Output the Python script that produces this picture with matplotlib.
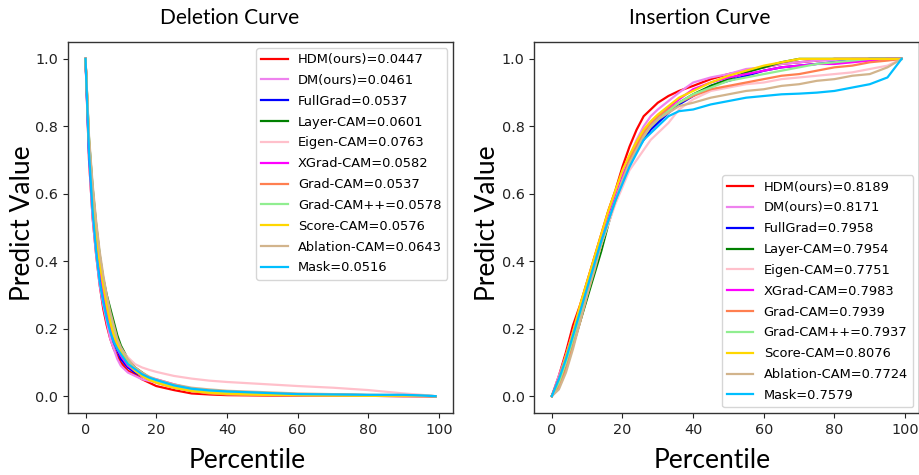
import matplotlib

matplotlib.use("Agg")
import matplotlib.pyplot as plt

FIGSIZE = (9.19, 4.75)
DPI = 100

LABELS = [
    "HDM(ours)", "DM(ours)", "FullGrad", "Layer-CAM", "Eigen-CAM", "XGrad-CAM",
    "Grad-CAM", "Grad-CAM++", "Score-CAM", "Ablation-CAM", "Mask",
]
COLORS = [
    "red", "violet", "blue", "green", "pink", "magenta",
    "coral", "lightgreen", "gold", "tan", "deepskyblue",
]
DEL_SCORES = ["0.0447", "0.0461", "0.0537", "0.0601", "0.0763", "0.0582",
              "0.0537", "0.0578", "0.0576", "0.0643", "0.0516"]
INS_SCORES = ["0.8189", "0.8171", "0.7958", "0.7954", "0.7751", "0.7983",
              "0.7939", "0.7937", "0.8076", "0.7724", "0.7579"]

# deletion curve
X_DEL = [0, 1, 2, 3, 4, 5, 6, 7, 8, 9, 10, 12, 14, 16, 18, 20, 25, 30, 35, 40, 50, 60, 70, 80, 90, 95, 99]
DEL_HDM = [1.0, 0.70, 0.53, 0.42, 0.33, 0.26, 0.21, 0.17, 0.14, 0.12, 0.10, 0.075, 0.065, 0.05, 0.04, 0.03, 0.018, 0.008, 0.005, 0.003, 0.002, 0.001, 0.001, 0.001, 0.0, 0.0, 0.0]
DEL_DM = [1.0, 0.70, 0.53, 0.42, 0.33, 0.27, 0.22, 0.17, 0.14, 0.11, 0.09, 0.07, 0.06, 0.05, 0.045, 0.04, 0.025, 0.015, 0.01, 0.006, 0.004, 0.002, 0.001, 0.001, 0.0, 0.0, 0.0]
DEL_FULLGRAD = [1.0, 0.72, 0.57, 0.45, 0.36, 0.29, 0.24, 0.20, 0.16, 0.135, 0.11, 0.085, 0.07, 0.06, 0.05, 0.045, 0.03, 0.02, 0.015, 0.01, 0.007, 0.005, 0.004, 0.003, 0.002, 0.001, 0.0]
DEL_LAYER = [1.0, 0.76, 0.62, 0.51, 0.42, 0.35, 0.30, 0.26, 0.22, 0.18, 0.15, 0.11, 0.085, 0.07, 0.055, 0.048, 0.03, 0.022, 0.016, 0.012, 0.008, 0.005, 0.004, 0.003, 0.002, 0.001, 0.0]
DEL_EIGEN = [1.0, 0.74, 0.59, 0.48, 0.39, 0.32, 0.26, 0.21, 0.18, 0.16, 0.14, 0.115, 0.095, 0.085, 0.078, 0.072, 0.06, 0.052, 0.046, 0.042, 0.036, 0.03, 0.025, 0.018, 0.008, 0.004, 0.0]
DEL_XGRAD = [1.0, 0.74, 0.59, 0.48, 0.39, 0.31, 0.26, 0.21, 0.17, 0.14, 0.12, 0.09, 0.075, 0.06, 0.055, 0.05, 0.035, 0.022, 0.015, 0.01, 0.006, 0.004, 0.003, 0.002, 0.001, 0.0, 0.0]
DEL_GRADCAM = [1.0, 0.75, 0.60, 0.49, 0.40, 0.33, 0.27, 0.22, 0.18, 0.15, 0.13, 0.10, 0.08, 0.06, 0.05, 0.04, 0.025, 0.015, 0.008, 0.005, 0.003, 0.002, 0.001, 0.001, 0.0, 0.0, 0.0]
DEL_GRADCAMPP = [1.0, 0.76, 0.61, 0.50, 0.41, 0.34, 0.28, 0.23, 0.19, 0.16, 0.135, 0.10, 0.08, 0.065, 0.052, 0.045, 0.03, 0.02, 0.014, 0.01, 0.007, 0.005, 0.004, 0.003, 0.002, 0.001, 0.0]
DEL_SCORE = [1.0, 0.75, 0.60, 0.49, 0.40, 0.33, 0.27, 0.22, 0.18, 0.155, 0.13, 0.095, 0.075, 0.06, 0.048, 0.04, 0.025, 0.015, 0.01, 0.007, 0.004, 0.003, 0.002, 0.001, 0.001, 0.0, 0.0]
DEL_ABLATION = [1.0, 0.77, 0.63, 0.52, 0.43, 0.36, 0.30, 0.25, 0.21, 0.17, 0.145, 0.11, 0.085, 0.07, 0.058, 0.05, 0.035, 0.025, 0.02, 0.016, 0.012, 0.008, 0.006, 0.004, 0.003, 0.002, 0.0]
DEL_MASK = [1.0, 0.72, 0.55, 0.43, 0.34, 0.28, 0.23, 0.19, 0.16, 0.14, 0.125, 0.095, 0.08, 0.065, 0.055, 0.048, 0.032, 0.022, 0.017, 0.014, 0.01, 0.006, 0.005, 0.004, 0.004, 0.002, 0.0]

# insertion curve
X_INS = [0, 2, 4, 6, 8, 10, 12, 14, 16, 18, 20, 22, 24, 26, 28, 30, 33, 36, 40, 45, 50, 55, 60, 65, 70, 75, 80, 85, 90, 95, 99]
INS_HDM = [0, 0.06, 0.13, 0.21, 0.27, 0.34, 0.41, 0.48, 0.55, 0.61, 0.68, 0.74, 0.79, 0.83, 0.85, 0.87, 0.89, 0.905, 0.92, 0.94, 0.955, 0.965, 0.975, 0.985, 0.99, 0.995, 1.0, 1.0, 1.0, 1.0, 1.0]
INS_DM = [0, 0.06, 0.12, 0.19, 0.26, 0.33, 0.40, 0.47, 0.54, 0.60, 0.66, 0.71, 0.76, 0.80, 0.83, 0.85, 0.875, 0.90, 0.93, 0.945, 0.955, 0.97, 0.975, 0.985, 0.99, 0.995, 0.995, 1.0, 1.0, 1.0, 1.0]
INS_FULLGRAD = [0, 0.05, 0.11, 0.17, 0.24, 0.31, 0.38, 0.45, 0.52, 0.58, 0.64, 0.69, 0.73, 0.76, 0.79, 0.81, 0.84, 0.865, 0.89, 0.92, 0.935, 0.95, 0.965, 0.975, 0.98, 0.985, 0.99, 0.995, 1.0, 1.0, 1.0]
INS_LAYER = [0, 0.03, 0.09, 0.15, 0.22, 0.29, 0.36, 0.43, 0.51, 0.58, 0.645, 0.70, 0.74, 0.77, 0.80, 0.82, 0.845, 0.87, 0.895, 0.92, 0.94, 0.96, 0.975, 0.99, 1.0, 1.0, 1.0, 1.0, 1.0, 1.0, 1.0]
INS_EIGEN = [0, 0.04, 0.10, 0.17, 0.24, 0.31, 0.38, 0.45, 0.51, 0.57, 0.62, 0.67, 0.70, 0.73, 0.76, 0.78, 0.81, 0.85, 0.88, 0.905, 0.915, 0.925, 0.93, 0.94, 0.945, 0.95, 0.955, 0.96, 0.97, 0.98, 1.0]
INS_XGRAD = [0, 0.05, 0.12, 0.19, 0.26, 0.32, 0.39, 0.46, 0.53, 0.59, 0.65, 0.70, 0.74, 0.78, 0.81, 0.83, 0.855, 0.88, 0.91, 0.93, 0.945, 0.955, 0.965, 0.975, 0.98, 0.985, 0.985, 0.99, 0.995, 1.0, 1.0]
INS_GRADCAM = [0, 0.03, 0.08, 0.15, 0.22, 0.30, 0.38, 0.45, 0.52, 0.58, 0.64, 0.70, 0.745, 0.78, 0.81, 0.83, 0.85, 0.87, 0.89, 0.91, 0.92, 0.93, 0.94, 0.95, 0.955, 0.965, 0.975, 0.98, 0.99, 0.995, 1.0]
INS_GRADCAMPP = [0, 0.04, 0.10, 0.17, 0.24, 0.31, 0.38, 0.45, 0.52, 0.58, 0.64, 0.69, 0.73, 0.77, 0.80, 0.82, 0.845, 0.87, 0.895, 0.915, 0.935, 0.945, 0.955, 0.965, 0.975, 0.985, 0.99, 0.995, 1.0, 1.0, 1.0]
INS_SCORE = [0, 0.05, 0.12, 0.19, 0.27, 0.34, 0.41, 0.48, 0.55, 0.61, 0.67, 0.715, 0.755, 0.79, 0.815, 0.835, 0.86, 0.885, 0.905, 0.93, 0.95, 0.965, 0.98, 0.99, 1.0, 1.0, 1.0, 1.0, 1.0, 1.0, 1.0]
INS_ABLATION = [0, 0.02, 0.07, 0.14, 0.22, 0.30, 0.37, 0.45, 0.52, 0.58, 0.64, 0.69, 0.73, 0.77, 0.80, 0.82, 0.84, 0.86, 0.87, 0.885, 0.895, 0.905, 0.91, 0.92, 0.925, 0.935, 0.94, 0.95, 0.955, 0.975, 1.0]
INS_MASK = [0, 0.05, 0.11, 0.18, 0.25, 0.32, 0.39, 0.46, 0.52, 0.58, 0.63, 0.68, 0.72, 0.76, 0.78, 0.80, 0.83, 0.845, 0.85, 0.865, 0.875, 0.885, 0.89, 0.895, 0.897, 0.90, 0.905, 0.915, 0.925, 0.945, 1.0]

DEL_SERIES = [DEL_HDM, DEL_DM, DEL_FULLGRAD, DEL_LAYER, DEL_EIGEN, DEL_XGRAD,
              DEL_GRADCAM, DEL_GRADCAMPP, DEL_SCORE, DEL_ABLATION, DEL_MASK]
INS_SERIES = [INS_HDM, INS_DM, INS_FULLGRAD, INS_LAYER, INS_EIGEN, INS_XGRAD,
              INS_GRADCAM, INS_GRADCAMPP, INS_SCORE, INS_ABLATION, INS_MASK]

TITLE_FONT = "Lato"


def draw_panel(ax, x, series, scores, legend_loc):
    for values, label, score, color in zip(series, LABELS, scores, COLORS):
        ax.plot(x, values, color=color, linewidth=1.6, label=f"{label}={score}")
    ax.set_yticks([0.0, 0.2, 0.4, 0.6, 0.8, 1.0])
    ax.set_xticks([0, 20, 40, 60, 80, 100])
    ax.tick_params(labelsize=10.4, colors="#222222")
    for spine in ax.spines.values():
        spine.set_color("#333333")
        spine.set_linewidth(1.0)
    ax.legend(loc=legend_loc, fontsize=9.4, labelspacing=0.6, borderaxespad=0.45)


def main():
    plt.rcParams["font.family"] = "DejaVu Sans"
    fig = plt.figure(figsize=FIGSIZE, dpi=DPI)
    ax_del = fig.add_axes([0.074, 0.1305, 0.419, 0.781])
    ax_ins = fig.add_axes([0.5814, 0.1305, 0.4187, 0.781])

    draw_panel(ax_del, X_DEL, DEL_SERIES, DEL_SCORES, "upper right")
    draw_panel(ax_ins, X_INS, INS_SERIES, INS_SCORES, "lower right")

    fig.text(0.250, 0.962, "Deletion Curve", fontsize=15, family=TITLE_FONT, ha="center", va="center")
    fig.text(0.761, 0.962, "Insertion Curve", fontsize=15, family=TITLE_FONT, ha="center", va="center")
    fig.text(0.024, 0.53, "Predict Value", fontsize=19, family=TITLE_FONT, rotation=90, ha="center", va="center")
    fig.text(0.531, 0.53, "Predict Value", fontsize=19, family=TITLE_FONT, rotation=90, ha="center", va="center")
    fig.text(0.269, 0.004, "Percentile", fontsize=19, family=TITLE_FONT, ha="center", va="bottom")
    fig.text(0.775, 0.004, "Percentile", fontsize=19, family=TITLE_FONT, ha="center", va="bottom")

    fig.savefig("out.png", dpi=DPI)


if __name__ == "__main__":
    main()
